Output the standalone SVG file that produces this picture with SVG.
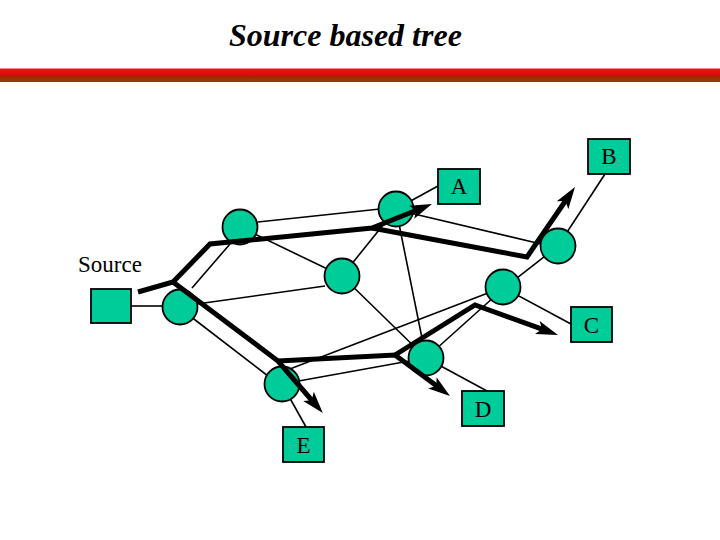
<svg xmlns="http://www.w3.org/2000/svg" width="720" height="540" viewBox="0 0 720 540">
<defs>
<linearGradient id="bar" x1="0" y1="0" x2="0" y2="1">
<stop offset="0" stop-color="#ee1212"/>
<stop offset="0.4" stop-color="#e20c0c"/>
<stop offset="0.6" stop-color="#a82000"/>
<stop offset="0.75" stop-color="#933808"/>
<stop offset="1" stop-color="#8e3a08"/>
</linearGradient>
<marker id="ah" markerUnits="userSpaceOnUse" markerWidth="24" markerHeight="16" viewBox="0 -8 24 16" refX="8" refY="0" orient="auto">
<path d="M0,-7 L22,0 L0,7 L5,0 z" fill="#000"/>
</marker>
</defs>
<style>
.thin{stroke:#000;stroke-width:1.6;fill:none}
.thick{stroke:#000;stroke-width:5;fill:none;stroke-linejoin:miter;stroke-miterlimit:10}
.nd{fill:#00CC99;stroke:#000;stroke-width:1.8}
.lbl{font-family:"Liberation Serif","Times New Roman",serif;font-size:23px;fill:#000}
</style>
<rect width="720" height="540" fill="#fff"/>
<text x="229" y="46" font-family="Liberation Serif, 'Times New Roman', serif" font-size="32" font-weight="bold" font-style="italic">Source based tree</text>
<rect x="0" y="68.5" width="720" height="13.5" fill="url(#bar)"/>
<g id="connectors">
<g id="thin-links">
<line class="thin" x1="131" y1="306" x2="163" y2="306"/>
<line class="thin" x1="258" y1="222" x2="380" y2="209"/>
<line class="thin" x1="240" y1="227" x2="342" y2="276"/>
<line class="thin" x1="192" y1="288" x2="230" y2="244"/>
<line class="thin" x1="197" y1="304" x2="325" y2="286"/>
<line class="thin" x1="342" y1="276" x2="396" y2="209"/>
<line class="thin" x1="342" y1="276" x2="426" y2="358"/>
<line class="thin" x1="396" y1="209" x2="426" y2="358"/>
<line class="thin" x1="396" y1="209" x2="438" y2="186"/>
<line class="thin" x1="410" y1="213" x2="541" y2="244"/>
<line class="thin" x1="558" y1="246" x2="605" y2="174"/>
<line class="thin" x1="558" y1="246" x2="504" y2="288"/>
<line class="thin" x1="504" y1="288" x2="571" y2="324"/>
<line class="thin" x1="488" y1="293" x2="282" y2="372"/>
<line class="thin" x1="282" y1="384" x2="426" y2="358"/>
<line class="thin" x1="426" y1="358" x2="487" y2="391"/>
<line class="thin" x1="426" y1="358" x2="504" y2="288"/>
<line class="thin" x1="190" y1="316" x2="268" y2="376"/>
<line class="thin" x1="282" y1="384" x2="306" y2="427"/>
</g>
</g>
<g id="source"><rect class="nd" x="91" y="289" width="40" height="34"/><text class="lbl" x="78" y="272">Source</text></g>
<g id="nodeA"><rect class="nd" x="438" y="169" width="42" height="35"/><text class="lbl" x="459" y="194" text-anchor="middle">A</text></g>
<g id="nodeB"><rect class="nd" x="588" y="139" width="42" height="35"/><text class="lbl" x="609" y="164" text-anchor="middle">B</text></g>
<g id="nodeC"><rect class="nd" x="571" y="307" width="41" height="35"/><text class="lbl" x="591.5" y="333" text-anchor="middle">C</text></g>
<g id="nodeD"><rect class="nd" x="462" y="391" width="42" height="35"/><text class="lbl" x="483" y="417" text-anchor="middle">D</text></g>
<g id="nodeE"><rect class="nd" x="283" y="427" width="41" height="35"/><text class="lbl" x="303.5" y="453" text-anchor="middle">E</text></g>
<g id="r1"><circle class="nd" cx="240" cy="227" r="17.5"/></g>
<g id="r2"><circle class="nd" cx="396" cy="209" r="17.5"/></g>
<g id="r3"><circle class="nd" cx="342" cy="276" r="17.5"/></g>
<g id="r4"><circle class="nd" cx="180" cy="307" r="17.5"/></g>
<g id="r5"><circle class="nd" cx="558" cy="246" r="17.5"/></g>
<g id="r6"><circle class="nd" cx="503" cy="287" r="17.5"/></g>
<g id="r7"><circle class="nd" cx="426" cy="358" r="17.5"/></g>
<g id="r8"><circle class="nd" cx="282" cy="384" r="17.5"/></g>
<g id="tree">
<path class="thick" d="M138,292 L173,282 L210,244 L372,228 L419,209.2" marker-end="url(#ah)"/>
<path class="thick" d="M372,228 L527,257 L567.1,198.5" marker-end="url(#ah)"/>
<path class="thick" d="M173,282 L278,361 L313.7,402.5" marker-end="url(#ah)"/>
<path class="thick" d="M278,361 L395,355 L438.8,387.6" marker-end="url(#ah)"/>
<path class="thick" d="M395,355 L475,305 L544.8,330.2" marker-end="url(#ah)"/>
</g>
</svg>
